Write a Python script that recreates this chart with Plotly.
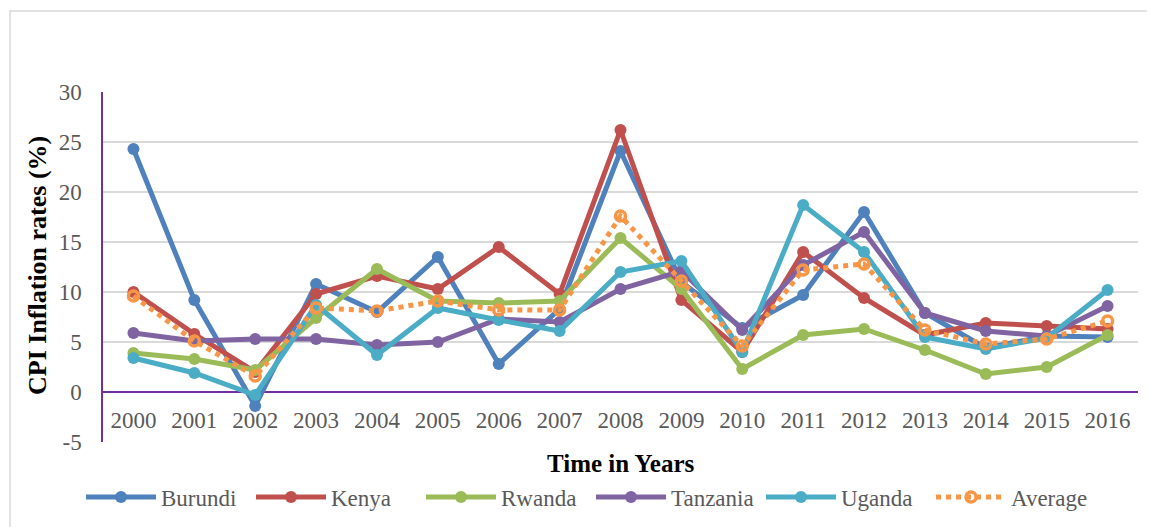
import plotly.graph_objects as go

years = list(range(2000, 2017))
burundi = [24.3, 9.2, -1.4, 10.8, 8.0, 13.5, 2.8, 8.3, 24.1, 11.0, 6.4, 9.7, 18.0, 7.9, 4.4, 5.6, 5.5]
kenya = [10.0, 5.8, 2.0, 9.8, 11.6, 10.3, 14.5, 9.8, 26.2, 9.2, 4.0, 14.0, 9.4, 5.7, 6.9, 6.6, 6.3]
rwanda = [3.9, 3.3, 2.2, 7.4, 12.3, 9.1, 8.9, 9.1, 15.4, 10.3, 2.3, 5.7, 6.3, 4.2, 1.8, 2.5, 5.7]
tanzania = [5.9, 5.1, 5.3, 5.3, 4.7, 5.0, 7.3, 7.0, 10.3, 12.1, 6.2, 12.7, 16.0, 7.9, 6.1, 5.6, 8.6]
uganda = [3.4, 1.9, -0.3, 8.7, 3.7, 8.4, 7.2, 6.1, 12.0, 13.1, 4.0, 18.7, 14.0, 5.5, 4.3, 5.4, 10.2]
average = [9.6, 5.1, 1.6, 8.4, 8.1, 9.1, 8.2, 8.2, 17.6, 11.1, 4.6, 12.2, 12.8, 6.2, 4.8, 5.3, 7.1]
y_ticks = [-5, 0, 5, 10, 15, 20, 25, 30]
y_tick_text = ["-5", "0", "5", "10", "15", "20", "25", "30"]

series = [
    ("Burundi", burundi, "#4F81BD"),
    ("Kenya", kenya, "#C0504D"),
    ("Rwanda", rwanda, "#9BBB59"),
    ("Tanzania", tanzania, "#8064A2"),
    ("Uganda", uganda, "#4BACC6"),
]

OFF = 8  # page body offset
W, H = 1155 - OFF, 527 - OFF
L, R, T, B = 95, 17, 84, 85
pw, ph = W - L - R, H - T - B

def px_x(p):
    return (p - OFF - L) / pw

def px_y(p):
    return (H - B - (p - OFF)) / ph

font_family = "Liberation Serif"
gray = "#595959"
purple = "#7030A0"

fig = go.Figure()
for name, vals, col in series:
    fig.add_trace(go.Scatter(
        x=years, y=vals, name=name, mode="lines+markers",
        line=dict(color=col, width=5),
        marker=dict(color=col, size=12),
    ))

fig.add_trace(go.Scatter(
    x=years, y=average, name="Average", mode="lines+markers",
    line=dict(color="#F79646", width=5, dash="dot"),
    marker=dict(color="#F79646", size=10, symbol="circle-open", line=dict(width=3.5, color="#F79646")),
))

fig.update_layout(
    width=W, height=H,
    margin=dict(l=L, r=R, t=T, b=B, autoexpand=False),
    paper_bgcolor="white", plot_bgcolor="white",
    font=dict(family=font_family, size=20, color=gray),
    showlegend=True,
    legend=dict(
        orientation="h", x=px_x(81), xanchor="left", y=px_y(497), yanchor="middle",
        font=dict(family=font_family, size=23, color=gray),
        entrywidth=85, entrywidthmode="pixels",
        itemwidth=70, tracegroupgap=0,
    ),
    xaxis=dict(
        range=[1999.5, 2016.5], tickmode="array", tickvals=years,
        ticktext=[str(y) for y in years],
        showgrid=False, zeroline=False,
        showline=False, ticks="",
        anchor="free", position=5 / 35,
        tickfont=dict(family=font_family, size=23, color=gray),
        ticklabelstandoff=12,
    ),
    yaxis=dict(
        range=[-5, 30], tickmode="array", tickvals=y_ticks, ticktext=y_tick_text,
        showgrid=True, gridcolor="#D9D9D9", gridwidth=1.5,
        zeroline=True, zerolinecolor=purple, zerolinewidth=1.5,
        showline=True, linecolor=purple, linewidth=1.5,
        ticks="", tickfont=dict(family=font_family, size=23, color=gray),
        ticklabelstandoff=15,
    ),
    shapes=[dict(
        type="rect", xref="paper", yref="paper",
        x0=px_x(10), x1=px_x(1175), y0=px_y(545), y1=px_y(11),
        line=dict(color="#D9D9D9", width=1.5), fillcolor="rgba(0,0,0,0)", layer="below",
    )],
    annotations=[
        dict(text="<b>CPI Inflation rates (%)</b>", xref="paper", yref="paper",
             x=px_x(37), y=px_y(266), textangle=-90, showarrow=False,
             xanchor="center", yanchor="middle",
             font=dict(family=font_family, size=26, color="black")),
        dict(text="<b>Time in Years</b>", xref="paper", yref="paper",
             x=px_x(620), y=px_y(463), showarrow=False,
             xanchor="center", yanchor="middle",
             font=dict(family=font_family, size=25, color="black")),
    ],
)

fig.write_html("out.html")
